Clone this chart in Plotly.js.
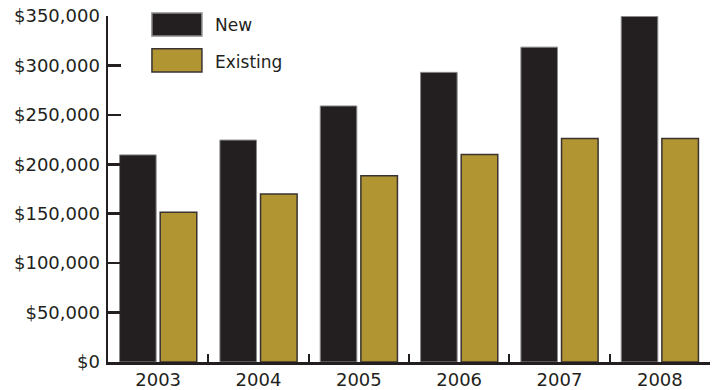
<!DOCTYPE html>
<html>
<head>
<meta charset="utf-8">
<script src="https://cdn.plot.ly/plotly-3.0.1.min.js"></script>
<style>html,body{margin:0;padding:0;background:#fff;}#chart{width:720px;height:390px;}</style>
</head>
<body>
<div id="chart"></div>
<script>
const years = ['2003', '2004', '2005', '2006', '2007', '2008'];
const seriesNames = ['New', 'Existing'];
const newValues = [209500, 224500, 259000, 293000, 318500, 349500];
const existingValues = [151500, 170000, 188500, 210000, 226000, 226000];
const yTickValues = [0, 50000, 100000, 150000, 200000, 250000, 300000, 350000];
const yTickLabels = ['$0', '$50,000', '$100,000', '$150,000', '$200,000', '$250,000', '$300,000', '$350,000'];

const INK = '#231F20';
const GOLD = '#B19532';

const traces = [
  {type: 'bar', name: seriesNames[0], x: years, y: newValues,
   marker: {color: INK, line: {color: '#8a8a8a', width: 1}}},
  {type: 'bar', name: seriesNames[1], x: years, y: existingValues,
   marker: {color: GOLD, line: {color: '#3a3330', width: 1.5}}}
];

const legendColors = [[INK, '#8a8a8a'], [GOLD, '#3a3330']];
const legendRows = [[1.009, 0.942, 0.974], [0.905, 0.838, 0.867]];
const shapes = [];
const annotations = [];
seriesNames.forEach((n, i) => {
  shapes.push({type: 'rect', xref: 'paper', yref: 'paper', x0: 0.073, x1: 0.156,
    y0: legendRows[i][1], y1: legendRows[i][0],
    fillcolor: legendColors[i][0], line: {color: legendColors[i][1], width: 1.5}});
  annotations.push({xref: 'paper', yref: 'paper', x: 0.174, y: legendRows[i][2],
    xanchor: 'left', yanchor: 'middle', text: n, showarrow: false,
    font: {family: 'DejaVu Sans', size: 17, color: INK}});
});

const layout = {
  width: 720, height: 390,
  margin: {l: 108, r: 10, t: 16, b: 28},
  paper_bgcolor: '#fff', plot_bgcolor: '#fff',
  barmode: 'group', bargap: 0.19, bargroupgap: 0.1,
  showlegend: false,
  font: {family: 'DejaVu Sans', size: 18, color: INK},
  xaxis: {type: 'category', range: [-0.5, 5.5], showline: true, linecolor: INK, linewidth: 2.5,
    ticks: 'inside', tickson: 'boundaries', ticklen: 8, tickwidth: 2, tickcolor: INK,
    showgrid: false, zeroline: false, fixedrange: true,
    tickfont: {family: 'DejaVu Sans', size: 18, color: INK}},
  yaxis: {range: [0, 350000], tickmode: 'array', tickvals: yTickValues, ticktext: yTickLabels,
    showline: true, linecolor: INK, linewidth: 2.5,
    ticks: 'inside', ticklen: 13, tickwidth: 2.5, tickcolor: INK,
    ticklabelstandoff: 2,
    showgrid: false, zeroline: false, fixedrange: true,
    tickfont: {family: 'DejaVu Sans', size: 18, color: INK}},
  shapes: shapes,
  annotations: annotations
};

Plotly.newPlot('chart', traces, layout, {displayModeBar: false, staticPlot: true});
</script>
</body>
</html>
